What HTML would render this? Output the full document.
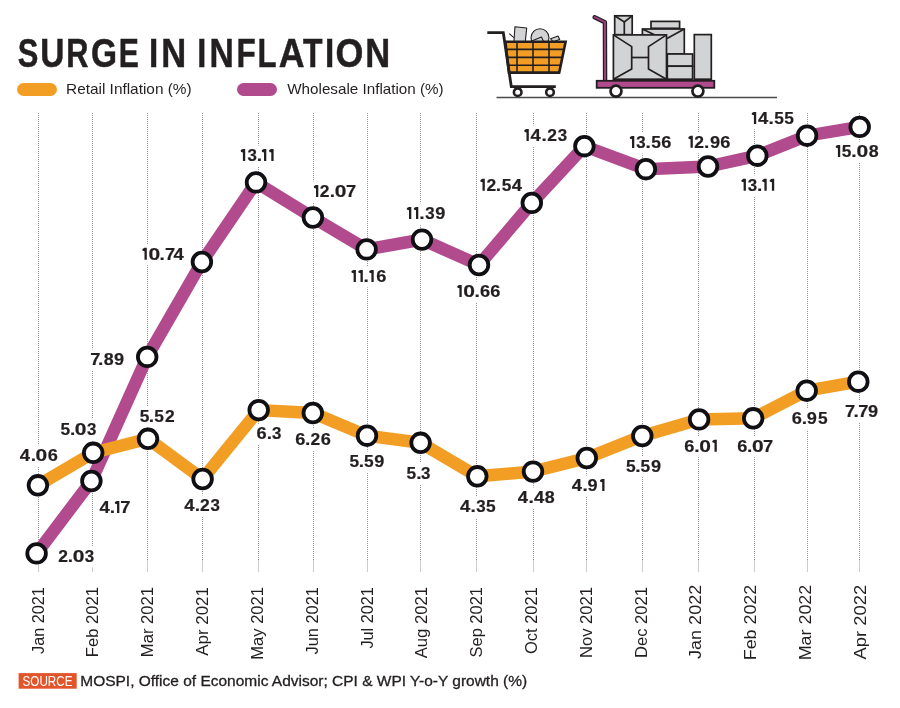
<!DOCTYPE html>
<html><head><meta charset="utf-8"><title>Surge in Inflation</title>
<style>
html,body{margin:0;padding:0;background:#fff;}
body{width:900px;height:708px;overflow:hidden;}
svg{display:block;font-family:"Liberation Sans",sans-serif;will-change:transform;}
</style></head><body>
<svg width="900" height="708" viewBox="0 0 900 708">
<rect width="900" height="708" fill="#fff"/>
<g font-size="40.1" font-weight="bold" fill="#231f20" stroke="#231f20" stroke-width="0.5"><text transform="translate(17.66,67.2) scale(0.770,1)">S</text><text transform="translate(40.24,67.2) scale(0.834,1)">U</text><text transform="translate(66.19,67.2) scale(0.766,1)">R</text><text transform="translate(90.88,67.2) scale(0.835,1)">G</text><text transform="translate(118.63,67.2) scale(0.751,1)">E</text><text transform="translate(149.02,67.2) scale(0.831,1)">I</text><text transform="translate(161.14,67.2) scale(0.861,1)">N</text><text transform="translate(197.37,67.2) scale(0.814,1)">I</text><text transform="translate(209.50,67.2) scale(0.840,1)">N</text><text transform="translate(236.54,67.2) scale(0.786,1)">F</text><text transform="translate(257.46,67.2) scale(0.778,1)">L</text><text transform="translate(278.66,67.2) scale(0.892,1)">A</text><text transform="translate(303.09,67.2) scale(0.796,1)">T</text><text transform="translate(325.02,67.2) scale(0.831,1)">I</text><text transform="translate(335.38,67.2) scale(0.894,1)">O</text><text transform="translate(365.24,67.2) scale(0.861,1)">N</text></g>
<rect x="17" y="83" width="40" height="13" rx="6.5" fill="#f29e25"/>
<text x="66.04" y="93.6" font-size="15" fill="#231f20" textLength="125.61" lengthAdjust="spacingAndGlyphs">Retail Inflation (%)</text>
<rect x="237" y="83" width="40" height="13" rx="6.5" fill="#b24a8e"/>
<text x="287.23" y="93.6" font-size="15" fill="#231f20" textLength="156.41" lengthAdjust="spacingAndGlyphs">Wholesale Inflation (%)</text>
<g id="icons">
<line x1="496.5" y1="97.5" x2="777" y2="97.5" stroke="#4a4a4a" stroke-width="1.3"/>
<!-- cart items -->
<g fill="#d1d3d4" stroke="#231f20" stroke-width="1.1" stroke-linejoin="round">
<line x1="509.3" y1="33.7" x2="513.8" y2="37.6"/>
<polygon points="514.9,26.7 526.7,28 525.3,41.5 514,41.5"/>
<circle cx="540" cy="37.8" r="9"/>
<polygon points="530.5,41.5 541.5,37 543.5,41.5"/>
<polygon points="550.7,38.8 558,36 559.7,39.6 553,41.7"/>
</g>
<!-- basket -->
<polygon points="505.4,41.8 565.6,41.8 559.2,72.6 509,72.6" fill="#f29e25" stroke="#231f20" stroke-width="2.6" stroke-linejoin="miter"/>
<g stroke="#231f20" stroke-width="1.6">
<line x1="506" y1="49.4" x2="564.7" y2="49.4"/>
<line x1="506.8" y1="57.4" x2="563" y2="57.4"/>
<line x1="507.6" y1="65.3" x2="561.3" y2="65.3"/>
<line x1="517" y1="42" x2="517" y2="72.5"/>
<line x1="533" y1="42" x2="533" y2="72.5"/>
<line x1="549" y1="42" x2="549" y2="72.5"/>
</g>
<polyline points="487.3,32.7 503.3,32.7 511.3,86.7 555.8,86.7" fill="none" stroke="#231f20" stroke-width="2.8" stroke-linejoin="miter"/>
<g fill="#fff" stroke="#231f20" stroke-width="2.6">
<circle cx="517.7" cy="92.2" r="3.8"/>
<circle cx="550" cy="92.2" r="3.8"/>
</g>
<!-- trolley boxes -->
<g fill="#d1d3d4" stroke="#231f20" stroke-width="1.7" stroke-linejoin="miter">
<rect x="614.7" y="15.8" width="17.5" height="18.9"/>
<polyline fill="none" points="614.7,15.8 624.3,21.9 632.2,15.8"/>
<line x1="624.3" y1="21.9" x2="624.3" y2="34.7"/>
<rect x="651" y="21.4" width="28.6" height="6.9"/>
<rect x="642.4" y="29" width="41.9" height="25"/>
<line x1="642.4" y1="29" x2="656" y2="35.5"/>
<line x1="684.3" y1="29" x2="667" y2="38.5"/>
<rect x="613.4" y="34.9" width="53.1" height="44.3"/>
<polyline fill="none" points="613.4,34.9 631.7,46.6 631.7,69.1 613.4,79.2"/>
<polyline fill="none" points="666.5,34.9 648.5,46.6 648.5,69.1 666.5,79.2"/>
<line x1="631.7" y1="57.5" x2="648.5" y2="57.5"/>
<rect x="667.3" y="54" width="25.3" height="12.2"/>
<rect x="667.3" y="66.2" width="25.3" height="13"/>
<rect x="694.3" y="34.6" width="17" height="44.6"/>
</g>
<!-- trolley handle -->
<polyline points="594.6,17.2 604.9,22.2 605.1,80.5" fill="none" stroke="#231f20" stroke-width="4.4" stroke-linecap="round" stroke-linejoin="round"/>
<polyline points="594.6,17.2 604.9,22.2 605.1,80.5" fill="none" stroke="#9c4080" stroke-width="2.0" stroke-linecap="round" stroke-linejoin="round"/>
<rect x="596.7" y="80.8" width="117.6" height="7" fill="#b24a8e" stroke="#231f20" stroke-width="1.8"/>
<g fill="#fff" stroke="#231f20" stroke-width="2.7">
<circle cx="616" cy="91.1" r="5.5"/>
<circle cx="697.9" cy="91.1" r="5.5"/>
</g>
</g>
<g stroke="#959595" stroke-width="1" stroke-dasharray="1 1">
<line x1="38.5" y1="113" x2="38.5" y2="560"/>
<line x1="92.5" y1="113" x2="92.5" y2="560"/>
<line x1="147.5" y1="113" x2="147.5" y2="560"/>
<line x1="202.5" y1="113" x2="202.5" y2="560"/>
<line x1="258.5" y1="113" x2="258.5" y2="560"/>
<line x1="313.5" y1="113" x2="313.5" y2="560"/>
<line x1="367.5" y1="113" x2="367.5" y2="560"/>
<line x1="420.5" y1="113" x2="420.5" y2="560"/>
<line x1="476.5" y1="113" x2="476.5" y2="560"/>
<line x1="533.5" y1="113" x2="533.5" y2="560"/>
<line x1="586.5" y1="113" x2="586.5" y2="560"/>
<line x1="642.5" y1="113" x2="642.5" y2="560"/>
<line x1="698.5" y1="113" x2="698.5" y2="560"/>
<line x1="754.5" y1="113" x2="754.5" y2="560"/>
<line x1="807.5" y1="113" x2="807.5" y2="560"/>
<line x1="859.5" y1="113" x2="859.5" y2="560"/>
</g>
<g stroke="#cdcdcd" stroke-width="1">
<line x1="38.5" y1="560" x2="38.5" y2="572"/>
<line x1="92.5" y1="560" x2="92.5" y2="572"/>
<line x1="147.5" y1="560" x2="147.5" y2="572"/>
<line x1="202.5" y1="560" x2="202.5" y2="572"/>
<line x1="258.5" y1="560" x2="258.5" y2="572"/>
<line x1="313.5" y1="560" x2="313.5" y2="572"/>
<line x1="367.5" y1="560" x2="367.5" y2="572"/>
<line x1="420.5" y1="560" x2="420.5" y2="572"/>
<line x1="476.5" y1="560" x2="476.5" y2="572"/>
<line x1="533.5" y1="560" x2="533.5" y2="572"/>
<line x1="586.5" y1="560" x2="586.5" y2="572"/>
<line x1="642.5" y1="560" x2="642.5" y2="572"/>
<line x1="698.5" y1="560" x2="698.5" y2="572"/>
<line x1="754.5" y1="560" x2="754.5" y2="572"/>
<line x1="807.5" y1="560" x2="807.5" y2="572"/>
<line x1="859.5" y1="560" x2="859.5" y2="572"/>
</g>
<g font-size="16.5" fill="#231f20">
<text transform="translate(43.65,0) rotate(-90)" x="-653.95" y="0" textLength="66.85" lengthAdjust="spacingAndGlyphs">Jan 2021</text>
<text transform="translate(98.46,0) rotate(-90)" x="-657.16" y="0" textLength="70.07" lengthAdjust="spacingAndGlyphs">Feb 2021</text>
<text transform="translate(153.27,0) rotate(-90)" x="-657.16" y="0" textLength="70.07" lengthAdjust="spacingAndGlyphs">Mar 2021</text>
<text transform="translate(208.08,0) rotate(-90)" x="-655.83" y="0" textLength="68.76" lengthAdjust="spacingAndGlyphs">Apr 2021</text>
<text transform="translate(262.89,0) rotate(-90)" x="-659.66" y="0" textLength="72.56" lengthAdjust="spacingAndGlyphs">May 2021</text>
<text transform="translate(317.70,0) rotate(-90)" x="-654.46" y="0" textLength="67.36" lengthAdjust="spacingAndGlyphs">Jun 2021</text>
<text transform="translate(372.51,0) rotate(-90)" x="-648.55" y="0" textLength="61.45" lengthAdjust="spacingAndGlyphs">Jul 2021</text>
<text transform="translate(427.32,0) rotate(-90)" x="-658.33" y="0" textLength="71.24" lengthAdjust="spacingAndGlyphs">Aug 2021</text>
<text transform="translate(482.13,0) rotate(-90)" x="-657.45" y="0" textLength="70.35" lengthAdjust="spacingAndGlyphs">Sep 2021</text>
<text transform="translate(536.94,0) rotate(-90)" x="-654.08" y="0" textLength="66.99" lengthAdjust="spacingAndGlyphs">Oct 2021</text>
<text transform="translate(591.75,0) rotate(-90)" x="-658.06" y="0" textLength="70.97" lengthAdjust="spacingAndGlyphs">Nov 2021</text>
<text transform="translate(646.56,0) rotate(-90)" x="-658.06" y="0" textLength="70.97" lengthAdjust="spacingAndGlyphs">Dec 2021</text>
<text transform="translate(701.37,0) rotate(-90)" x="-658.98" y="0" textLength="74.19" lengthAdjust="spacingAndGlyphs">Jan 2022</text>
<text transform="translate(756.18,0) rotate(-90)" x="-660.26" y="0" textLength="75.46" lengthAdjust="spacingAndGlyphs">Feb 2022</text>
<text transform="translate(810.99,0) rotate(-90)" x="-660.27" y="0" textLength="75.46" lengthAdjust="spacingAndGlyphs">Mar 2022</text>
<text transform="translate(865.80,0) rotate(-90)" x="-659.54" y="0" textLength="74.76" lengthAdjust="spacingAndGlyphs">Apr 2022</text>
</g>
<g fill="#fff"><rect x="56.8" y="546.4" width="38.9" height="21"/><rect x="97.8" y="497.4" width="33.8" height="21"/><rect x="89.0" y="349.4" width="36.5" height="21"/><rect x="140.2" y="244.3" width="45.5" height="21"/><rect x="238.6" y="145.5" width="37.0" height="21"/><rect x="311.7" y="181.5" width="45.6" height="21"/><rect x="349.3" y="266.4" width="38.3" height="21"/><rect x="404.7" y="203.4" width="42.0" height="21"/><rect x="455.1" y="281.4" width="46.6" height="21"/><rect x="478.2" y="175.3" width="45.8" height="21"/><rect x="522.2" y="125.5" width="46.3" height="21"/><rect x="627.7" y="132.4" width="45.0" height="21"/><rect x="686.2" y="132.3" width="45.5" height="21"/><rect x="739.3" y="175.3" width="36.9" height="21"/><rect x="749.6" y="108.4" width="45.9" height="21"/><rect x="833.6" y="141.4" width="46.4" height="21"/><rect x="18.0" y="445.4" width="41.1" height="21"/><rect x="59.0" y="419.2" width="38.8" height="21"/><rect x="138.2" y="406.1" width="37.7" height="21"/><rect x="182.6" y="495.3" width="38.8" height="21"/><rect x="255.2" y="423.9" width="27.5" height="21"/><rect x="293.9" y="429.2" width="38.3" height="21"/><rect x="348.0" y="451.4" width="37.8" height="21"/><rect x="405.0" y="463.1" width="26.9" height="21"/><rect x="458.3" y="496.9" width="38.8" height="21"/><rect x="516.0" y="487.5" width="40.2" height="21"/><rect x="570.1" y="475.4" width="36.4" height="21"/><rect x="624.6" y="456.3" width="37.8" height="21"/><rect x="683.0" y="436.2" width="35.8" height="21"/><rect x="735.8" y="436.2" width="38.7" height="21"/><rect x="790.4" y="408.8" width="38.8" height="21"/><rect x="843.8" y="401.3" width="35.6" height="21"/></g>
<polyline fill="none" stroke="#b24a8e" stroke-width="12.5" stroke-linejoin="miter" points="36.6,553.4 91.4,481 147.2,356.9 201.9,262 256,182.4 312.9,217.5 366.6,249.4 422,239.6 479,265 531.8,202.9 584.4,146.2 645.9,169.2 708,166.5 757.3,155.7 807.1,135.7 859.7,126.9"/>
<polyline fill="none" stroke="#f29e25" stroke-width="12.5" stroke-linejoin="miter" points="37.9,485.3 93.2,452.8 148,438.8 202.6,479 258.7,410.1 312.8,413 367,435.7 420.6,442.8 477.3,476.3 533,471.6 586.8,458 642.3,436 699.1,419.4 753.2,418.3 806.7,390.7 858.3,381.7"/>
<g fill="#fff" stroke="#101014" stroke-width="3.8">
<circle cx="37.9" cy="485.3" r="9.3"/>
<circle cx="93.2" cy="452.8" r="9.3"/>
<circle cx="148" cy="438.8" r="9.3"/>
<circle cx="202.6" cy="479" r="9.3"/>
<circle cx="258.7" cy="410.1" r="9.3"/>
<circle cx="312.8" cy="413" r="9.3"/>
<circle cx="367" cy="435.7" r="9.3"/>
<circle cx="420.6" cy="442.8" r="9.3"/>
<circle cx="477.3" cy="476.3" r="9.3"/>
<circle cx="533" cy="471.6" r="9.3"/>
<circle cx="586.8" cy="458" r="9.3"/>
<circle cx="642.3" cy="436" r="9.3"/>
<circle cx="699.1" cy="419.4" r="9.3"/>
<circle cx="753.2" cy="418.3" r="9.3"/>
<circle cx="806.7" cy="390.7" r="9.3"/>
<circle cx="858.3" cy="381.7" r="9.3"/>
<circle cx="36.6" cy="553.4" r="9.3"/>
<circle cx="91.4" cy="481" r="9.3"/>
<circle cx="147.2" cy="356.9" r="9.3"/>
<circle cx="201.9" cy="262" r="9.3"/>
<circle cx="256" cy="182.4" r="9.3"/>
<circle cx="312.9" cy="217.5" r="9.3"/>
<circle cx="366.6" cy="249.4" r="9.3"/>
<circle cx="422" cy="239.6" r="9.3"/>
<circle cx="479" cy="265" r="9.3"/>
<circle cx="531.8" cy="202.9" r="9.3"/>
<circle cx="584.4" cy="146.2" r="9.3"/>
<circle cx="645.9" cy="169.2" r="9.3"/>
<circle cx="708" cy="166.5" r="9.3"/>
<circle cx="757.3" cy="155.7" r="9.3"/>
<circle cx="807.1" cy="135.7" r="9.3"/>
<circle cx="859.7" cy="126.9" r="9.3"/>
</g>
<g font-size="17.2" font-weight="bold" fill="#231f20">
<text transform="translate(58.15,561.9) scale(1.014,1)" stroke="#231f20" stroke-width="0.2">2</text>
<text transform="translate(67.70,561.9) scale(1.112,1)" stroke="#231f20" stroke-width="0.2">.</text>
<text transform="translate(72.67,561.9) scale(1.222,1)" stroke="#231f20" stroke-width="0.2">0</text>
<text transform="translate(84.86,561.9) scale(0.983,1)" stroke="#231f20" stroke-width="0.2">3</text>
<text transform="translate(99.47,512.9) scale(1.075,1)" stroke="#231f20" stroke-width="0.2">4</text>
<text transform="translate(109.70,512.9) scale(1.112,1)" stroke="#231f20" stroke-width="0.2">.</text>
<path d="M117.05,500.90 L119.35,500.90 L119.35,512.90 L117.05,512.90 L117.05,504.30 L115.35,503.80 Q114.65,503.50 114.85,502.50 Q115.05,501.80 115.75,501.50 Z"/>
<text transform="translate(120.21,512.9) scale(1.066,1)" stroke="#231f20" stroke-width="0.2">7</text>
<text transform="translate(90.21,364.9) scale(1.066,1)" stroke="#231f20" stroke-width="0.2">7</text>
<text transform="translate(97.95,364.9) scale(1.112,1)" stroke="#231f20" stroke-width="0.2">.</text>
<text transform="translate(103.68,364.9) scale(1.036,1)" stroke="#231f20" stroke-width="0.2">8</text>
<text transform="translate(114.12,364.9) scale(1.056,1)" stroke="#231f20" stroke-width="0.2">9</text>
<path d="M144.50,247.80 L146.80,247.80 L146.80,259.80 L144.50,259.80 L144.50,251.20 L142.80,250.70 Q142.10,250.40 142.30,249.40 Q142.50,248.70 143.20,248.40 Z"/>
<text transform="translate(148.57,259.79999999999995) scale(1.222,1)" stroke="#231f20" stroke-width="0.2">0</text>
<text transform="translate(159.50,259.79999999999995) scale(1.112,1)" stroke="#231f20" stroke-width="0.2">.</text>
<text transform="translate(165.01,259.79999999999995) scale(1.066,1)" stroke="#231f20" stroke-width="0.2">7</text>
<text transform="translate(173.52,259.79999999999995) scale(1.075,1)" stroke="#231f20" stroke-width="0.2">4</text>
<path d="M242.90,149.00 L245.20,149.00 L245.20,161.00 L242.90,161.00 L242.90,152.40 L241.20,151.90 Q240.50,151.60 240.70,150.60 Q240.90,149.90 241.60,149.60 Z"/>
<text transform="translate(247.61,161.0) scale(0.983,1)" stroke="#231f20" stroke-width="0.2">3</text>
<text transform="translate(256.70,161.0) scale(1.112,1)" stroke="#231f20" stroke-width="0.2">.</text>
<path d="M264.00,149.00 L266.30,149.00 L266.30,161.00 L264.00,161.00 L264.00,152.40 L262.30,151.90 Q261.60,151.60 261.80,150.60 Q262.00,149.90 262.70,149.60 Z"/>
<path d="M271.30,149.00 L273.60,149.00 L273.60,161.00 L271.30,161.00 L271.30,152.40 L269.60,151.90 Q268.90,151.60 269.10,150.60 Q269.30,149.90 270.00,149.60 Z"/>
<path d="M316.00,185.00 L318.30,185.00 L318.30,197.00 L316.00,197.00 L316.00,188.40 L314.30,187.90 Q313.60,187.60 313.80,186.60 Q314.00,185.90 314.70,185.60 Z"/>
<text transform="translate(319.70,197.0) scale(1.014,1)" stroke="#231f20" stroke-width="0.2">2</text>
<text transform="translate(329.70,197.0) scale(1.112,1)" stroke="#231f20" stroke-width="0.2">.</text>
<text transform="translate(334.87,197.0) scale(1.222,1)" stroke="#231f20" stroke-width="0.2">0</text>
<text transform="translate(345.91,197.0) scale(1.066,1)" stroke="#231f20" stroke-width="0.2">7</text>
<path d="M353.60,269.90 L355.90,269.90 L355.90,281.90 L353.60,281.90 L353.60,273.30 L351.90,272.80 Q351.20,272.50 351.40,271.50 Q351.60,270.80 352.30,270.50 Z"/>
<path d="M360.50,269.90 L362.80,269.90 L362.80,281.90 L360.50,281.90 L360.50,273.30 L358.80,272.80 Q358.10,272.50 358.30,271.50 Q358.50,270.80 359.20,270.50 Z"/>
<text transform="translate(363.60,281.9) scale(1.112,1)" stroke="#231f20" stroke-width="0.2">.</text>
<path d="M371.40,269.90 L373.70,269.90 L373.70,281.90 L371.40,281.90 L371.40,273.30 L369.70,272.80 Q369.00,272.50 369.20,271.50 Q369.40,270.80 370.10,270.50 Z"/>
<text transform="translate(376.13,281.9) scale(1.058,1)" stroke="#231f20" stroke-width="0.2">6</text>
<path d="M409.00,206.90 L411.30,206.90 L411.30,218.90 L409.00,218.90 L409.00,210.30 L407.30,209.80 Q406.60,209.50 406.80,208.50 Q407.00,207.80 407.70,207.50 Z"/>
<path d="M416.00,206.90 L418.30,206.90 L418.30,218.90 L416.00,218.90 L416.00,210.30 L414.30,209.80 Q413.60,209.50 413.80,208.50 Q414.00,207.80 414.70,207.50 Z"/>
<text transform="translate(419.30,218.9) scale(1.112,1)" stroke="#231f20" stroke-width="0.2">.</text>
<text transform="translate(425.21,218.9) scale(0.983,1)" stroke="#231f20" stroke-width="0.2">3</text>
<text transform="translate(435.27,218.9) scale(1.056,1)" stroke="#231f20" stroke-width="0.2">9</text>
<path d="M459.40,284.90 L461.70,284.90 L461.70,296.90 L459.40,296.90 L459.40,288.30 L457.70,287.80 Q457.00,287.50 457.20,286.50 Q457.40,285.80 458.10,285.50 Z"/>
<text transform="translate(463.17,296.9) scale(1.222,1)" stroke="#231f20" stroke-width="0.2">0</text>
<text transform="translate(474.40,296.9) scale(1.112,1)" stroke="#231f20" stroke-width="0.2">.</text>
<text transform="translate(480.03,296.9) scale(1.058,1)" stroke="#231f20" stroke-width="0.2">6</text>
<text transform="translate(490.23,296.9) scale(1.058,1)" stroke="#231f20" stroke-width="0.2">6</text>
<path d="M482.50,178.80 L484.80,178.80 L484.80,190.80 L482.50,190.80 L482.50,182.20 L480.80,181.70 Q480.10,181.40 480.30,180.40 Q480.50,179.70 481.20,179.40 Z"/>
<text transform="translate(486.50,190.8) scale(1.014,1)" stroke="#231f20" stroke-width="0.2">2</text>
<text transform="translate(495.80,190.8) scale(1.112,1)" stroke="#231f20" stroke-width="0.2">.</text>
<text transform="translate(501.87,190.8) scale(1.005,1)" stroke="#231f20" stroke-width="0.2">5</text>
<text transform="translate(511.82,190.8) scale(1.075,1)" stroke="#231f20" stroke-width="0.2">4</text>
<path d="M526.50,129.00 L528.80,129.00 L528.80,141.00 L526.50,141.00 L526.50,132.40 L524.80,131.90 Q524.10,131.60 524.30,130.60 Q524.50,129.90 525.20,129.60 Z"/>
<text transform="translate(530.52,141.0) scale(1.075,1)" stroke="#231f20" stroke-width="0.2">4</text>
<text transform="translate(541.50,141.0) scale(1.112,1)" stroke="#231f20" stroke-width="0.2">.</text>
<text transform="translate(547.20,141.0) scale(1.014,1)" stroke="#231f20" stroke-width="0.2">2</text>
<text transform="translate(557.71,141.0) scale(0.983,1)" stroke="#231f20" stroke-width="0.2">3</text>
<path d="M632.00,135.90 L634.30,135.90 L634.30,147.90 L632.00,147.90 L632.00,139.30 L630.30,138.80 Q629.60,138.50 629.80,137.50 Q630.00,136.80 630.70,136.50 Z"/>
<text transform="translate(636.31,147.9) scale(0.983,1)" stroke="#231f20" stroke-width="0.2">3</text>
<text transform="translate(645.60,147.9) scale(1.112,1)" stroke="#231f20" stroke-width="0.2">.</text>
<text transform="translate(651.17,147.9) scale(1.005,1)" stroke="#231f20" stroke-width="0.2">5</text>
<text transform="translate(661.23,147.9) scale(1.058,1)" stroke="#231f20" stroke-width="0.2">6</text>
<path d="M690.50,135.80 L692.80,135.80 L692.80,147.80 L690.50,147.80 L690.50,139.20 L688.80,138.70 Q688.10,138.40 688.30,137.40 Q688.50,136.70 689.20,136.40 Z"/>
<text transform="translate(694.20,147.8) scale(1.014,1)" stroke="#231f20" stroke-width="0.2">2</text>
<text transform="translate(704.10,147.8) scale(1.112,1)" stroke="#231f20" stroke-width="0.2">.</text>
<text transform="translate(710.07,147.8) scale(1.056,1)" stroke="#231f20" stroke-width="0.2">9</text>
<text transform="translate(720.23,147.8) scale(1.058,1)" stroke="#231f20" stroke-width="0.2">6</text>
<path d="M743.60,178.80 L745.90,178.80 L745.90,190.80 L743.60,190.80 L743.60,182.20 L741.90,181.70 Q741.20,181.40 741.40,180.40 Q741.60,179.70 742.30,179.40 Z"/>
<text transform="translate(747.81,190.8) scale(0.983,1)" stroke="#231f20" stroke-width="0.2">3</text>
<text transform="translate(756.90,190.8) scale(1.112,1)" stroke="#231f20" stroke-width="0.2">.</text>
<path d="M764.40,178.80 L766.70,178.80 L766.70,190.80 L764.40,190.80 L764.40,182.20 L762.70,181.70 Q762.00,181.40 762.20,180.40 Q762.40,179.70 763.10,179.40 Z"/>
<path d="M771.90,178.80 L774.20,178.80 L774.20,190.80 L771.90,190.80 L771.90,182.20 L770.20,181.70 Q769.50,181.40 769.70,180.40 Q769.90,179.70 770.60,179.40 Z"/>
<path d="M753.90,111.90 L756.20,111.90 L756.20,123.90 L753.90,123.90 L753.90,115.30 L752.20,114.80 Q751.50,114.50 751.70,113.50 Q751.90,112.80 752.60,112.50 Z"/>
<text transform="translate(758.02,123.9) scale(1.075,1)" stroke="#231f20" stroke-width="0.2">4</text>
<text transform="translate(768.60,123.9) scale(1.112,1)" stroke="#231f20" stroke-width="0.2">.</text>
<text transform="translate(774.37,123.9) scale(1.005,1)" stroke="#231f20" stroke-width="0.2">5</text>
<text transform="translate(784.37,123.9) scale(1.005,1)" stroke="#231f20" stroke-width="0.2">5</text>
<path d="M837.90,144.90 L840.20,144.90 L840.20,156.90 L837.90,156.90 L837.90,148.30 L836.20,147.80 Q835.50,147.50 835.70,146.50 Q835.90,145.80 836.60,145.50 Z"/>
<text transform="translate(841.77,156.9) scale(1.005,1)" stroke="#231f20" stroke-width="0.2">5</text>
<text transform="translate(851.30,156.9) scale(1.112,1)" stroke="#231f20" stroke-width="0.2">.</text>
<text transform="translate(856.47,156.9) scale(1.222,1)" stroke="#231f20" stroke-width="0.2">0</text>
<text transform="translate(868.63,156.9) scale(1.036,1)" stroke="#231f20" stroke-width="0.2">8</text>
<text transform="translate(19.72,460.9) scale(1.075,1)" stroke="#231f20" stroke-width="0.2">4</text>
<text transform="translate(30.70,460.9) scale(1.112,1)" stroke="#231f20" stroke-width="0.2">.</text>
<text transform="translate(35.57,460.9) scale(1.222,1)" stroke="#231f20" stroke-width="0.2">0</text>
<text transform="translate(47.63,460.9) scale(1.058,1)" stroke="#231f20" stroke-width="0.2">6</text>
<text transform="translate(60.47,434.7) scale(1.005,1)" stroke="#231f20" stroke-width="0.2">5</text>
<text transform="translate(70.00,434.7) scale(1.112,1)" stroke="#231f20" stroke-width="0.2">.</text>
<text transform="translate(74.87,434.7) scale(1.222,1)" stroke="#231f20" stroke-width="0.2">0</text>
<text transform="translate(87.01,434.7) scale(0.983,1)" stroke="#231f20" stroke-width="0.2">3</text>
<text transform="translate(139.72,421.59999999999997) scale(1.005,1)" stroke="#231f20" stroke-width="0.2">5</text>
<text transform="translate(148.70,421.59999999999997) scale(1.112,1)" stroke="#231f20" stroke-width="0.2">.</text>
<text transform="translate(154.22,421.59999999999997) scale(1.005,1)" stroke="#231f20" stroke-width="0.2">5</text>
<text transform="translate(164.90,421.59999999999997) scale(1.014,1)" stroke="#231f20" stroke-width="0.2">2</text>
<text transform="translate(184.32,510.79999999999995) scale(1.075,1)" stroke="#231f20" stroke-width="0.2">4</text>
<text transform="translate(194.70,510.79999999999995) scale(1.112,1)" stroke="#231f20" stroke-width="0.2">.</text>
<text transform="translate(200.10,510.79999999999995) scale(1.014,1)" stroke="#231f20" stroke-width="0.2">2</text>
<text transform="translate(210.61,510.79999999999995) scale(0.983,1)" stroke="#231f20" stroke-width="0.2">3</text>
<text transform="translate(256.53,439.4) scale(1.058,1)" stroke="#231f20" stroke-width="0.2">6</text>
<text transform="translate(266.80,439.4) scale(1.112,1)" stroke="#231f20" stroke-width="0.2">.</text>
<text transform="translate(271.91,439.4) scale(0.983,1)" stroke="#231f20" stroke-width="0.2">3</text>
<text transform="translate(295.23,444.7) scale(1.058,1)" stroke="#231f20" stroke-width="0.2">6</text>
<text transform="translate(305.00,444.7) scale(1.112,1)" stroke="#231f20" stroke-width="0.2">.</text>
<text transform="translate(310.40,444.7) scale(1.014,1)" stroke="#231f20" stroke-width="0.2">2</text>
<text transform="translate(320.73,444.7) scale(1.058,1)" stroke="#231f20" stroke-width="0.2">6</text>
<text transform="translate(349.47,466.9) scale(1.005,1)" stroke="#231f20" stroke-width="0.2">5</text>
<text transform="translate(358.70,466.9) scale(1.112,1)" stroke="#231f20" stroke-width="0.2">.</text>
<text transform="translate(363.97,466.9) scale(1.005,1)" stroke="#231f20" stroke-width="0.2">5</text>
<text transform="translate(374.37,466.9) scale(1.056,1)" stroke="#231f20" stroke-width="0.2">9</text>
<text transform="translate(406.47,478.59999999999997) scale(1.005,1)" stroke="#231f20" stroke-width="0.2">5</text>
<text transform="translate(416.20,478.59999999999997) scale(1.112,1)" stroke="#231f20" stroke-width="0.2">.</text>
<text transform="translate(421.11,478.59999999999997) scale(0.983,1)" stroke="#231f20" stroke-width="0.2">3</text>
<text transform="translate(460.02,512.4) scale(1.075,1)" stroke="#231f20" stroke-width="0.2">4</text>
<text transform="translate(470.60,512.4) scale(1.112,1)" stroke="#231f20" stroke-width="0.2">.</text>
<text transform="translate(476.21,512.4) scale(0.983,1)" stroke="#231f20" stroke-width="0.2">3</text>
<text transform="translate(485.97,512.4) scale(1.005,1)" stroke="#231f20" stroke-width="0.2">5</text>
<text transform="translate(517.72,503.0) scale(1.075,1)" stroke="#231f20" stroke-width="0.2">4</text>
<text transform="translate(528.40,503.0) scale(1.112,1)" stroke="#231f20" stroke-width="0.2">.</text>
<text transform="translate(534.02,503.0) scale(1.075,1)" stroke="#231f20" stroke-width="0.2">4</text>
<text transform="translate(544.83,503.0) scale(1.036,1)" stroke="#231f20" stroke-width="0.2">8</text>
<text transform="translate(571.82,490.9) scale(1.075,1)" stroke="#231f20" stroke-width="0.2">4</text>
<text transform="translate(582.50,490.9) scale(1.112,1)" stroke="#231f20" stroke-width="0.2">.</text>
<text transform="translate(587.57,490.9) scale(1.056,1)" stroke="#231f20" stroke-width="0.2">9</text>
<path d="M602.20,478.90 L604.50,478.90 L604.50,490.90 L602.20,490.90 L602.20,482.30 L600.50,481.80 Q599.80,481.50 600.00,480.50 Q600.20,479.80 600.90,479.50 Z"/>
<text transform="translate(626.07,471.79999999999995) scale(1.005,1)" stroke="#231f20" stroke-width="0.2">5</text>
<text transform="translate(635.30,471.79999999999995) scale(1.112,1)" stroke="#231f20" stroke-width="0.2">.</text>
<text transform="translate(640.47,471.79999999999995) scale(1.005,1)" stroke="#231f20" stroke-width="0.2">5</text>
<text transform="translate(650.97,471.79999999999995) scale(1.056,1)" stroke="#231f20" stroke-width="0.2">9</text>
<text transform="translate(684.33,451.7) scale(1.058,1)" stroke="#231f20" stroke-width="0.2">6</text>
<text transform="translate(694.30,451.7) scale(1.112,1)" stroke="#231f20" stroke-width="0.2">.</text>
<text transform="translate(699.17,451.7) scale(1.222,1)" stroke="#231f20" stroke-width="0.2">0</text>
<path d="M714.50,439.70 L716.80,439.70 L716.80,451.70 L714.50,451.70 L714.50,443.10 L712.80,442.60 Q712.10,442.30 712.30,441.30 Q712.50,440.60 713.20,440.30 Z"/>
<text transform="translate(737.13,451.7) scale(1.058,1)" stroke="#231f20" stroke-width="0.2">6</text>
<text transform="translate(747.00,451.7) scale(1.112,1)" stroke="#231f20" stroke-width="0.2">.</text>
<text transform="translate(751.97,451.7) scale(1.222,1)" stroke="#231f20" stroke-width="0.2">0</text>
<text transform="translate(763.11,451.7) scale(1.066,1)" stroke="#231f20" stroke-width="0.2">7</text>
<text transform="translate(791.73,424.29999999999995) scale(1.058,1)" stroke="#231f20" stroke-width="0.2">6</text>
<text transform="translate(801.70,424.29999999999995) scale(1.112,1)" stroke="#231f20" stroke-width="0.2">.</text>
<text transform="translate(806.77,424.29999999999995) scale(1.056,1)" stroke="#231f20" stroke-width="0.2">9</text>
<text transform="translate(818.07,424.29999999999995) scale(1.005,1)" stroke="#231f20" stroke-width="0.2">5</text>
<text transform="translate(845.01,416.79999999999995) scale(1.066,1)" stroke="#231f20" stroke-width="0.2">7</text>
<text transform="translate(853.40,416.79999999999995) scale(1.112,1)" stroke="#231f20" stroke-width="0.2">.</text>
<text transform="translate(858.31,416.79999999999995) scale(1.066,1)" stroke="#231f20" stroke-width="0.2">7</text>
<text transform="translate(867.97,416.79999999999995) scale(1.056,1)" stroke="#231f20" stroke-width="0.2">9</text>
</g>
<rect x="18.6" y="673.1" width="58.1" height="15.6" fill="#e2552b"/>
<text x="22.57" y="685.9" font-size="13.8" fill="#fff" textLength="49.93" lengthAdjust="spacingAndGlyphs">SOURCE</text>
<text stroke="#231f20" stroke-width="0.3" x="80.24" y="685.9" font-size="14.5" fill="#231f20" textLength="446.92" lengthAdjust="spacingAndGlyphs">MOSPI, Office of Economic Advisor; CPI &amp; WPI Y-o-Y growth (%)</text>
</svg>
</body></html>
